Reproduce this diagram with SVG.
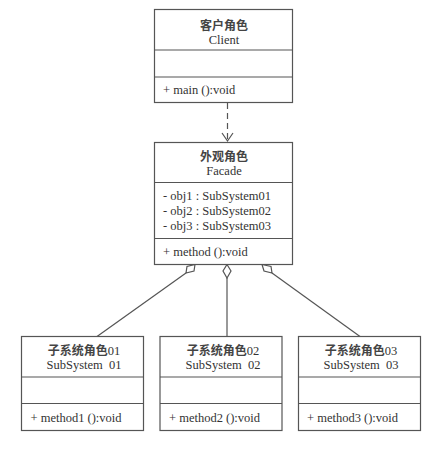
<svg xmlns="http://www.w3.org/2000/svg" width="446" height="464" viewBox="0 0 446 464">
<style>
.box{fill:#fff;stroke:#555;stroke-width:1.2}
.div{stroke:#555;stroke-width:1.2}
.t{font-family:"Liberation Serif","Noto Sans CJK SC",serif;font-size:12.5px;fill:#333}
.c{text-anchor:middle}
.cn{font-family:"Noto Sans CJK SC",sans-serif;font-size:12px;font-weight:bold;fill:#444}
.ln{stroke:#555;stroke-width:1.2;fill:none}
.dia{fill:#fff;stroke:#555;stroke-width:1.2}
</style>
<rect width="446" height="464" fill="#fff"/>
<g id="connectors">
<line class="ln" x1="227.5" y1="103" x2="227.5" y2="140" stroke-dasharray="6,4"/>
<polyline class="ln" points="222,133 227.5,141 233,133"/>
<line class="ln" x1="186" y1="273" x2="97" y2="336.5"/>
<polygon class="dia" points="195,264.5 194,271 186,273 187,266.5"/>
<line class="ln" x1="227" y1="278" x2="227" y2="336.5"/>
<polygon class="dia" points="227,264.5 231,271 227,278 223,271"/>
<line class="ln" x1="272" y1="273" x2="360" y2="336.5"/>
<polygon class="dia" points="262,264.5 271,266.5 272,273 264,271"/>
</g>
<g id="client">
<rect class="box" x="154.5" y="9.5" width="138" height="93"/>
<line class="div" x1="154.5" y1="50" x2="292.5" y2="50"/>
<line class="div" x1="154.5" y1="77" x2="292.5" y2="77"/>
<text class="cn c" x="224" y="30">客户角色</text>
<text class="t c" x="224" y="44">Client</text>
<text class="t" x="163" y="94">+ main ():void</text>
</g>
<g id="facade">
<rect class="box" x="154.5" y="142.5" width="138" height="122"/>
<line class="div" x1="154.5" y1="182.5" x2="292.5" y2="182.5"/>
<line class="div" x1="154.5" y1="238.5" x2="292.5" y2="238.5"/>
<text class="cn c" x="224" y="161">外观角色</text>
<text class="t c" x="224" y="175">Facade</text>
<text class="t" x="163" y="200">- obj1 : SubSystem01</text>
<text class="t" x="163" y="215">- obj2 : SubSystem02</text>
<text class="t" x="163" y="229.5">- obj3 : SubSystem03</text>
<text class="t" x="163" y="256">+ method ():void</text>
</g>
<g id="subsystem01">
<rect class="box" x="21.5" y="336.5" width="122" height="94"/>
<line class="div" x1="21.5" y1="377" x2="143.5" y2="377"/>
<line class="div" x1="21.5" y1="403.5" x2="143.5" y2="403.5"/>
<text class="cn c" x="84" y="355">子系统角色<tspan class="t" font-weight="normal">01</tspan></text>
<text class="t c" x="84" y="369" xml:space="preserve">SubSystem  01</text>
<text class="t" x="30.5" y="422">+ method1 ():void</text>
</g>
<g id="subsystem02">
<rect class="box" x="160" y="336.5" width="122" height="94"/>
<line class="div" x1="160" y1="377" x2="282" y2="377"/>
<line class="div" x1="160" y1="403.5" x2="282" y2="403.5"/>
<text class="cn c" x="223" y="355">子系统角色<tspan class="t" font-weight="normal">02</tspan></text>
<text class="t c" x="223" y="369" xml:space="preserve">SubSystem  02</text>
<text class="t" x="169" y="422">+ method2 ():void</text>
</g>
<g id="subsystem03">
<rect class="box" x="298.5" y="336.5" width="122" height="94"/>
<line class="div" x1="298.5" y1="377" x2="420.5" y2="377"/>
<line class="div" x1="298.5" y1="403.5" x2="420.5" y2="403.5"/>
<text class="cn c" x="361" y="355">子系统角色<tspan class="t" font-weight="normal">03</tspan></text>
<text class="t c" x="361" y="369" xml:space="preserve">SubSystem  03</text>
<text class="t" x="307" y="422">+ method3 ():void</text>
</g>
</svg>
